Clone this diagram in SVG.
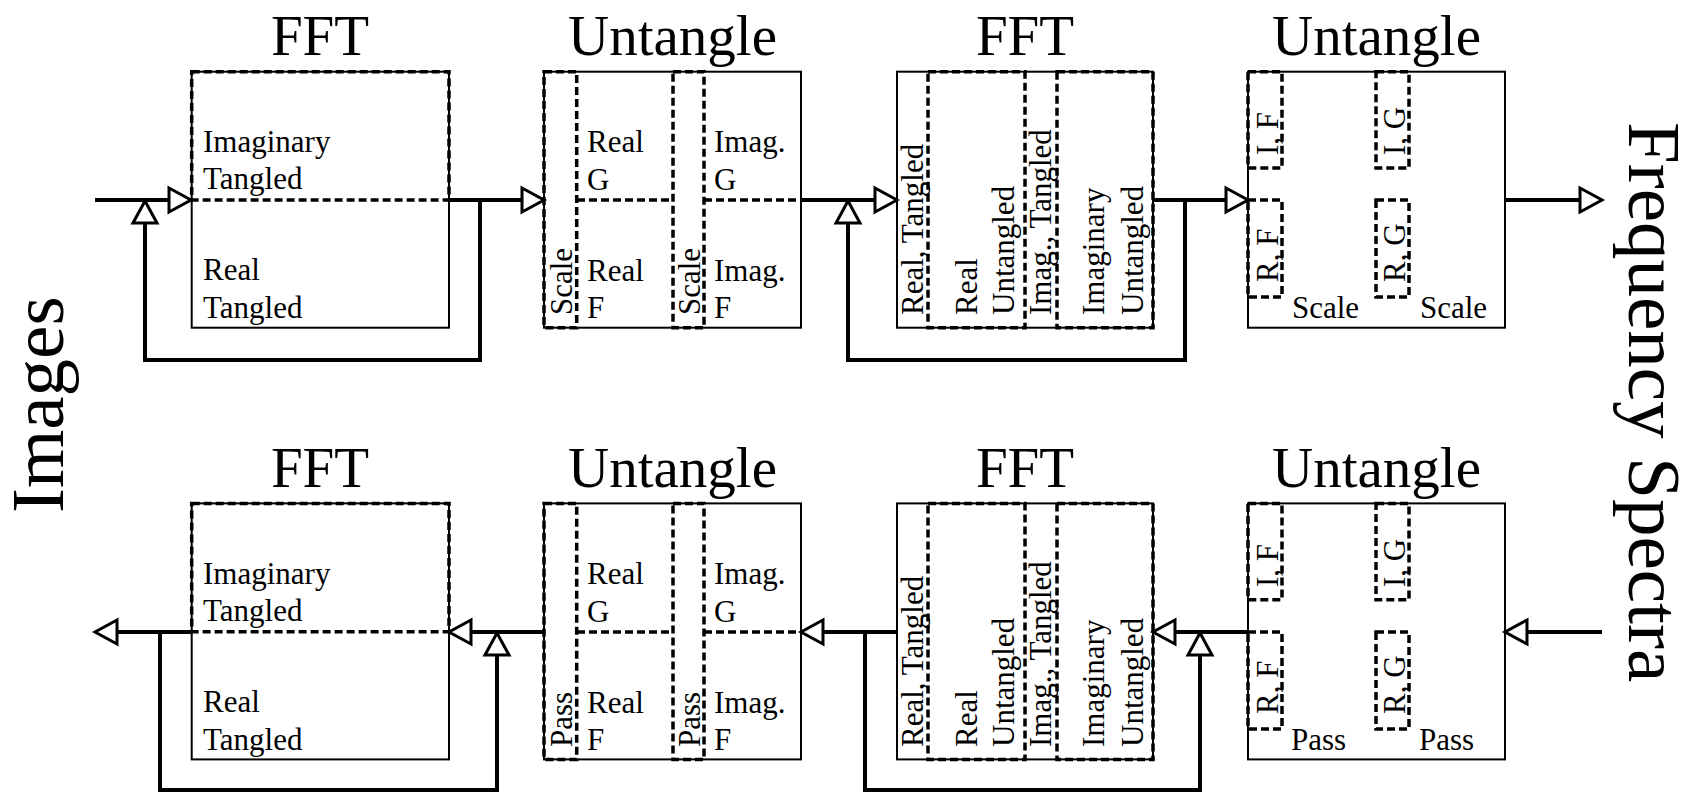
<svg xmlns="http://www.w3.org/2000/svg" width="1685" height="793" viewBox="0 0 1685 793">
<defs>
<style>
text{font-family:"Liberation Serif","Times New Roman",serif;fill:#000}
.t{font-size:57px;text-anchor:middle}
.s{font-size:31px}
.big{font-size:75px}
.box{fill:none;stroke:#000;stroke-width:2}
.dash{fill:none;stroke:#000;stroke-width:3.5;stroke-dasharray:8 4}
.con{fill:none;stroke:#000;stroke-width:4;marker-end:url(#arr)}
</style>
<marker id="arr" markerUnits="userSpaceOnUse" viewBox="-3 -3 29 30" markerWidth="29" markerHeight="30" refX="22" refY="12" orient="auto">
<path d="M0,0 L22,12 L0,24 Z" fill="#fff" stroke="#000" stroke-width="3" stroke-linejoin="miter"/>
</marker>
</defs>
<rect width="1685" height="793" fill="#fff"/>

<g id="connectors">
<path class="con" d="M95,200 H191"/>
<path class="con" d="M480,200 V360 H145 V201"/>
<path class="con" d="M449,200 H544"/>
<path class="con" d="M801,200 H897"/>
<path class="con" d="M1185,200 V360 H848 V201"/>
<path class="con" d="M1153,200 H1248"/>
<path class="con" d="M1505,200 H1602"/>
<path class="con" d="M1602,632 H1505"/>
<path class="con" d="M1248,632 H1153"/>
<path class="con" d="M865,632 V790 H1200 V633"/>
<path class="con" d="M897,632 H801"/>
<path class="con" d="M544,632 H449"/>
<path class="con" d="M160,632 V790 H497 V633"/>
<path class="con" d="M192,632 H95"/>
</g>

<g id="label-images"><text class="big" transform="translate(63,513) rotate(-90)">Images</text></g>
<g id="label-spectra"><text class="big" transform="translate(1629,122) rotate(90)">Frequency Spectra</text></g>

<g id="fft1">
<text class="t" x="320" y="55">FFT</text>
<rect class="box" x="191.7" y="71.7" width="257.3" height="256"/>
<rect class="dash" x="191.7" y="71.7" width="257.3" height="128.3"/>
<text class="s" x="203" y="152">Imaginary</text>
<text class="s" x="203" y="189">Tangled</text>
<text class="s" x="203" y="280">Real</text>
<text class="s" x="203" y="318">Tangled</text>
</g>

<g id="untangle1">
<text class="t" x="672.5" y="55">Untangle</text>
<rect class="box" x="544" y="71.7" width="257" height="256"/>
<rect class="dash" x="544" y="71.7" width="32.7" height="256"/>
<rect class="dash" x="673" y="71.7" width="31" height="256"/>
<path class="dash" d="M577,200 H673 M704,200 H801"/>
<text class="s" transform="translate(572,315) rotate(-90)">Scale</text>
<text class="s" transform="translate(700,315) rotate(-90)">Scale</text>
<text class="s" x="587" y="152">Real</text>
<text class="s" x="587" y="190">G</text>
<text class="s" x="587" y="281">Real</text>
<text class="s" x="587" y="318">F</text>
<text class="s" x="714" y="152">Imag.</text>
<text class="s" x="714" y="190">G</text>
<text class="s" x="714" y="281">Imag.</text>
<text class="s" x="714" y="318">F</text>
</g>

<g id="fft2">
<text class="t" x="1025" y="55">FFT</text>
<rect class="box" x="897" y="71.7" width="256" height="256"/>
<rect class="dash" x="928" y="71.7" width="97" height="256"/>
<rect class="dash" x="1057" y="71.7" width="96" height="256"/>
<text class="s" transform="translate(923,315) rotate(-90)">Real, Tangled</text>
<text class="s" transform="translate(977,315) rotate(-90)">Real</text>
<text class="s" transform="translate(1014,315) rotate(-90)">Untangled</text>
<text class="s" transform="translate(1051,315) rotate(-90)">Imag., Tangled</text>
<text class="s" transform="translate(1104,315) rotate(-90)">Imaginary</text>
<text class="s" transform="translate(1143,315) rotate(-90)">Untangled</text>
</g>

<g id="untangle2">
<text class="t" x="1376.5" y="55">Untangle</text>
<rect class="box" x="1248" y="71.7" width="257" height="256"/>
<rect class="dash" x="1248" y="71.7" width="34" height="96.3"/>
<rect class="dash" x="1248" y="200" width="34" height="97"/>
<rect class="dash" x="1376" y="71.7" width="33" height="96.3"/>
<rect class="dash" x="1376" y="200" width="33" height="97"/>
<text class="s" transform="translate(1278,155) rotate(-90)">I, F</text>
<text class="s" transform="translate(1278,282) rotate(-90)">R, F</text>
<text class="s" transform="translate(1405,155) rotate(-90)">I, G</text>
<text class="s" transform="translate(1405,282) rotate(-90)">R, G</text>
<text class="s" x="1292" y="318">Scale</text>
<text class="s" x="1420" y="318">Scale</text>
</g>

<g id="fft3">
<text class="t" x="320" y="487">FFT</text>
<rect class="box" x="191.7" y="503.4" width="257.3" height="256"/>
<rect class="dash" x="191.7" y="503.4" width="257.3" height="128.3"/>
<text class="s" x="203" y="584">Imaginary</text>
<text class="s" x="203" y="621">Tangled</text>
<text class="s" x="203" y="712">Real</text>
<text class="s" x="203" y="750">Tangled</text>
</g>

<g id="untangle3">
<text class="t" x="672.5" y="487">Untangle</text>
<rect class="box" x="544" y="503.4" width="257" height="256"/>
<rect class="dash" x="544" y="503.4" width="32.7" height="256"/>
<rect class="dash" x="673" y="503.4" width="31" height="256"/>
<path class="dash" d="M577,632 H673 M704,632 H801"/>
<text class="s" transform="translate(572,747) rotate(-90)">Pass</text>
<text class="s" transform="translate(700,747) rotate(-90)">Pass</text>
<text class="s" x="587" y="584">Real</text>
<text class="s" x="587" y="622">G</text>
<text class="s" x="587" y="713">Real</text>
<text class="s" x="587" y="750">F</text>
<text class="s" x="714" y="584">Imag.</text>
<text class="s" x="714" y="622">G</text>
<text class="s" x="714" y="713">Imag.</text>
<text class="s" x="714" y="750">F</text>
</g>

<g id="fft4">
<text class="t" x="1025" y="487">FFT</text>
<rect class="box" x="897" y="503.4" width="256" height="256"/>
<rect class="dash" x="928" y="503.4" width="97" height="256"/>
<rect class="dash" x="1057" y="503.4" width="96" height="256"/>
<text class="s" transform="translate(923,747) rotate(-90)">Real, Tangled</text>
<text class="s" transform="translate(977,747) rotate(-90)">Real</text>
<text class="s" transform="translate(1014,747) rotate(-90)">Untangled</text>
<text class="s" transform="translate(1051,747) rotate(-90)">Imag., Tangled</text>
<text class="s" transform="translate(1104,747) rotate(-90)">Imaginary</text>
<text class="s" transform="translate(1143,747) rotate(-90)">Untangled</text>
</g>

<g id="untangle4">
<text class="t" x="1376.5" y="487">Untangle</text>
<rect class="box" x="1248" y="503.4" width="257" height="256"/>
<rect class="dash" x="1248" y="503.4" width="34" height="96.3"/>
<rect class="dash" x="1248" y="632" width="34" height="97"/>
<rect class="dash" x="1376" y="503.4" width="33" height="96.3"/>
<rect class="dash" x="1376" y="632" width="33" height="97"/>
<text class="s" transform="translate(1278,587) rotate(-90)">I, F</text>
<text class="s" transform="translate(1278,714) rotate(-90)">R, F</text>
<text class="s" transform="translate(1405,587) rotate(-90)">I, G</text>
<text class="s" transform="translate(1405,714) rotate(-90)">R, G</text>
<text class="s" x="1291" y="750">Pass</text>
<text class="s" x="1419" y="750">Pass</text>
</g>
</svg>
